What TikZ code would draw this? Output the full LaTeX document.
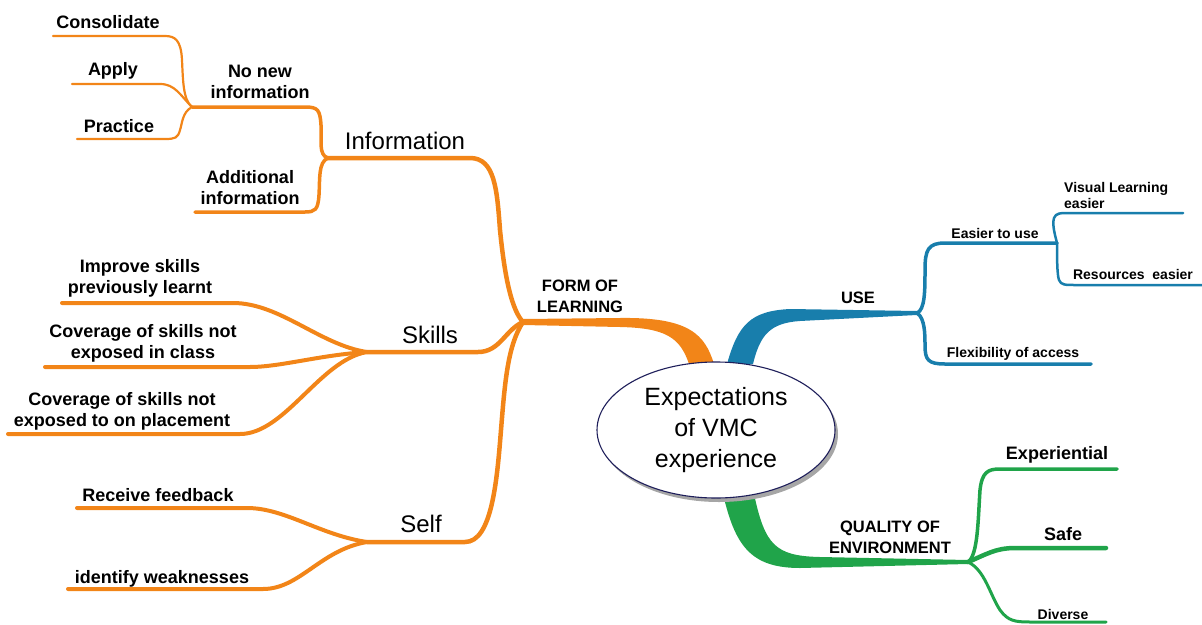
\documentclass[tikz,border=0pt]{standalone}
\usepackage{fontspec}
\setmainfont{Liberation Sans}
\usetikzlibrary{shapes.geometric}
\definecolor{brOrange}{RGB}{242,133,24}
\definecolor{brBlue}{RGB}{24,126,172}
\definecolor{brGreen}{RGB}{32,164,74}
\definecolor{rimBlue}{RGB}{30,30,90}
\begin{document}
\begin{tikzpicture}[x=1pt,y=-1pt,
  lbl/.style={font=\bfseries\fontsize{18}{21}\selectfont,align=center,inner sep=0pt},
  sublbl/.style={font=\bfseries\fontsize{14}{16}\selectfont,align=center,inner sep=0pt},
  toplbl/.style={font=\bfseries\fontsize{16.5}{21}\selectfont,align=center,inner sep=0pt},
  midlbl/.style={font=\fontsize{24}{28}\selectfont,inner sep=0pt},
  twig/.style={line cap=round,line width=#1},
  twig/.default=2.2pt]
\useasboundingbox (0,0) rectangle (1202,624);

% hub and end points
\coordinate (hubF) at (523,322);
\coordinate (hubI) at (328,158);
\coordinate (hubN) at (192,107);
\coordinate (hubS) at (367,352);
\coordinate (hubT) at (367,542);
\coordinate (hubU) at (917,313);
\coordinate (hubE) at (1057,243);
\coordinate (hubQ) at (968,562);
\coordinate (eAdd) at (195,212);
\coordinate (eCon) at (53,36);
\coordinate (eApp) at (72,84);
\coordinate (ePra) at (77,139);
\coordinate (eImp) at (62,303);
\coordinate (eCls) at (45,367);
\coordinate (ePla) at (8,434);
\coordinate (eFee) at (77,508);
\coordinate (eWea) at (68,589);
\coordinate (eFle) at (1091,364);
\coordinate (eVis) at (1183,213);
\coordinate (eRes) at (1202,285);
\coordinate (eExp) at (1117,469);
\coordinate (eSaf) at (1106,548);
\coordinate (eDiv) at (1106,622);

% tapering trunks
\fill[brOrange] (hubF) ++(0,-3) -- (620,318) .. controls (690,317) and (705,335) .. (714,364)
  -- (689,364) .. controls (680,337) and (665,328) .. (620,327) -- (523,325) -- cycle;
\fill[brBlue] (727,364) .. controls (738,325) and (750,311) .. (790,309) -- (917,311)
  -- (917,315) -- (800,321) .. controls (770,323) and (760,335) .. (753,364) -- cycle;
\fill[brGreen] (723,494) .. controls (735,545) and (750,568) .. (800,568) -- (968,564)
  -- (968,560) -- (820,557) .. controls (775,556) and (765,545) .. (754,494) -- cycle;

% orange branches
\begin{scope}[draw=brOrange]
\draw[twig=4.5pt] (hubF) .. controls (512,310) and (505,280) .. (500,230)
  .. controls (497,190) and (495,158) .. (470,158) -- (hubI);
\draw[twig=4.5pt] (hubF) .. controls (505,330) and (500,352) .. (478,352) -- (hubS);
\draw[twig=4.5pt] (hubF) .. controls (508,345) and (505,380) .. (501,430)
  .. controls (497,480) and (492,542) .. (465,542) -- (hubT);
\draw[twig=3.5pt] (hubI) .. controls (318,155) and (322,140) .. (321,125)
  .. controls (320,110) and (318,107) .. (305,107) -- (hubN);
\draw[twig=3.5pt] (hubI) .. controls (318,162) and (320,180) .. (319,195)
  .. controls (318,210) and (315,212) .. (305,212) -- (eAdd);
\draw[twig] (hubN) .. controls (183,100) and (183,80) .. (182,60)
  .. controls (181,40) and (175,36) .. (165,36) -- (eCon);
\draw[twig] (hubN) .. controls (180,95) and (175,84) .. (160,84) -- (eApp);
\draw[twig] (hubN) .. controls (182,112) and (182,125) .. (180,130)
  .. controls (178,138) and (175,139) .. (165,139) -- (ePra);
\draw[twig=4pt] (hubS) .. controls (320,345) and (280,303) .. (233,303) -- (eImp);
\draw[twig=4pt] (hubS) .. controls (320,355) and (280,367) .. (250,367) -- (eCls);
\draw[twig=4pt] (hubS) .. controls (320,360) and (285,434) .. (240,434) -- (ePla);
\draw[twig=4pt] (hubT) .. controls (320,535) and (285,508) .. (247,508) -- (eFee);
\draw[twig=4pt] (hubT) .. controls (320,550) and (300,589) .. (263,589) -- (eWea);
\end{scope}

% blue branches
\begin{scope}[draw=brBlue]
\draw[twig=3.5pt] (hubU) .. controls (925,310) and (925,290) .. (925,270)
  .. controls (925,250) and (928,243) .. (945,243) -- (hubE);
\draw[twig=3.5pt] (hubU) .. controls (925,318) and (925,335) .. (925,345)
  .. controls (925,360) and (928,364) .. (945,364) -- (eFle);
\draw[twig=2.5pt] (hubE) .. controls (1055,235) and (1052,225) .. (1054,218)
  .. controls (1056,213) and (1060,213) .. (1070,213) -- (eVis);
\draw[twig=2.5pt] (hubE) .. controls (1057,255) and (1057,275) .. (1059,280)
  .. controls (1061,285) and (1065,285) .. (1075,285) -- (eRes);
\end{scope}

% green branches
\begin{scope}[draw=brGreen]
\draw[twig=3.5pt] (hubQ) .. controls (978,555) and (978,520) .. (980,490)
  .. controls (982,472) and (988,469) .. (1000,469) -- (eExp);
\draw[twig=4.5pt] (hubQ) .. controls (985,555) and (995,548) .. (1015,548) -- (eSaf);
\draw[twig=3pt] (hubQ) .. controls (985,570) and (990,595) .. (1000,610)
  .. controls (1008,621) and (1015,622) .. (1030,622) -- (eDiv);
\end{scope}

% central topic
\fill[black!35] (719,434) ellipse [x radius=119, y radius=68];
\node[ellipse,draw=rimBlue,line width=1.1pt,fill=white,minimum width=238pt,minimum height=136pt,
  align=center,font=\fontsize{25}{31}\selectfont,inner sep=0pt] (core) at (716,430)
  {Expectations\\of VMC\\experience};

% labels
\node[lbl] (tCon) at (108,22) {Consolidate};
\node[lbl] (tApp) at (113,71) {Apply};
\node[lbl] (tPra) at (119,126) {Practice};
\node[lbl] (tNew) at (260,82) {No new\\information};
\node[lbl] (tAdd) at (250,188) {Additional\\information};
\node[midlbl] (tInf) at (405,141) {Information};
\node[toplbl] (tForm) at (580,296) {FORM OF\\LEARNING};
\node[midlbl] (tSki) at (430,335) {Skills};
\node[lbl] (tImp) at (140,278) {Improve skills\\previously learnt};
\node[lbl] (tCls) at (143,343) {Coverage of skills not\\exposed in class};
\node[lbl] (tPla) at (122,411) {Coverage of skills not\\exposed to on placement};
\node[midlbl] (tSelf) at (421,524) {Self};
\node[lbl] (tFee) at (158,495) {Receive feedback};
\node[lbl] (tWea) at (162,579) {identify weaknesses};
\node[toplbl] (tUse) at (858,298) {USE};
\node[sublbl] (tEas) at (995,233) {Easier to use};
\node[sublbl] (tFle) at (1013,354) {Flexibility of access};
\node[sublbl,align=left,anchor=west] (tVis) at (1064,195) {Visual Learning\\easier};
\node[sublbl] (tRes) at (1133,274) {Resources\ \ easier};
\node[toplbl] (tQua) at (890,537) {QUALITY OF\\ENVIRONMENT};
\node[lbl] (tExp) at (1057,455) {Experiential};
\node[lbl] (tSaf) at (1063,534) {Safe};
\node[sublbl] (tDiv) at (1063,614) {Diverse};
\end{tikzpicture}
\end{document}
